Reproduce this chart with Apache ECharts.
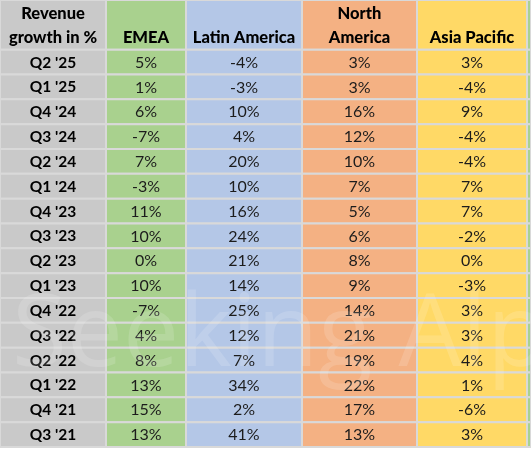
<!DOCTYPE html>
<html>
<head>
<meta charset="utf-8">
<script src="https://cdn.jsdelivr.net/npm/echarts@6/dist/echarts.min.js"></script>
<style>html,body{margin:0;padding:0;background:#fff}#c{width:531px;height:452px}</style>
</head>
<body>
<div id="c"></div>
<script>
var headers = ["Revenue\ngrowth in %", "EMEA", "Latin America", "North\nAmerica", "Asia Pacific", ""];
var quarters = ["Q2 '25","Q1 '25","Q4 '24","Q3 '24","Q2 '24","Q1 '24","Q4 '23","Q3 '23","Q2 '23","Q1 '23","Q4 '22","Q3 '22","Q2 '22","Q1 '22","Q4 '21","Q3 '21"];
var emea  = [5, 1, 6, -7, 7, -3, 11, 10, 0, 10, -7, 4, 8, 13, 15, 13];
var latam = [-4, -3, 10, 4, 20, 10, 16, 24, 21, 14, 25, 12, 7, 34, 2, 41];
var northAmerica = [3, 3, 16, 12, 10, 7, 5, 6, 8, 9, 14, 21, 19, 22, 17, 13];
var asiaPacific  = [3, -4, 9, -4, -4, 7, 7, -2, 0, -3, 3, 3, 4, 1, -6, 3];

var seriesVals = [null, emea, latam, northAmerica, asiaPacific, null];
var edges = [0, 106, 186, 302, 417, 527, 531];
var colors = ['#c9c9c9', '#a9d18e', '#b4c7e7', '#f4b183', '#ffd966', '#a9d18e'];
var nRows = quarters.length;

function cellText(c, r) {
  if (r < 0) return headers[c];
  if (c === 0) return quarters[r];
  if (!seriesVals[c]) return '';
  return seriesVals[c][r] + '%';
}

var cells = [];
for (var c = 0; c < headers.length; c++) {
  cells.push([c, -1]);
  for (var r = 0; r < nRows; r++) cells.push([c, r]);
}

var chart = echarts.init(document.getElementById('c'));
chart.setOption({
  backgroundColor: '#ffffff',
  animation: false,
  grid: {left: 0, right: 0, top: 0, bottom: 5},
  xAxis: {type: 'value', min: 0, max: 531, show: false},
  yAxis: {type: 'value', min: 0, max: nRows + 2, show: false},
  series: [{
    type: 'custom',
    data: cells,
    renderItem: function (params, api) {
      var c = api.value(0), r = api.value(1);
      var yTop = r < 0 ? nRows + 2 : nRows - r;
      var yBot = r < 0 ? nRows : nRows - r - 1;
      var p0 = api.coord([edges[c], yTop]);
      var p1 = api.coord([edges[c + 1], yBot]);
      var header = r < 0;
      var bold = header || c === 0;
      return {
        type: 'group',
        children: [{
          type: 'rect',
          shape: {x: p0[0], y: p0[1], width: p1[0] - p0[0], height: p1[1] - p0[1]},
          style: {fill: colors[c], stroke: '#d9d9d9', lineWidth: 2}
        }, {
          type: 'text',
          style: {
            text: cellText(c, r),
            x: (p0[0] + p1[0]) / 2,
            y: header ? p1[1] : (p0[1] + p1[1]) / 2 + 0.5,
            align: 'center',
            verticalAlign: header ? 'bottom' : 'middle',
            lineHeight: 24,
            fontFamily: 'Lato',
            fontSize: header ? 16.5 : (c === 0 ? 15.5 : 16),
            fontWeight: header ? 900 : (bold ? 'bold' : 'normal'),
            fill: bold ? '#000000' : '#1c1c1c'
          }
        }]
      };
    }
  }],
  graphic: [{
    type: 'text',
    left: 12,
    top: 288,
    z: 100,
    silent: true,
    style: {
      text: 'Seeking Alpha',
      fontFamily: 'Open Sans',
      fontSize: 100,
      fill: 'rgba(255,255,255,0.15)'
    }
  }]
});
</script>
</body>
</html>
